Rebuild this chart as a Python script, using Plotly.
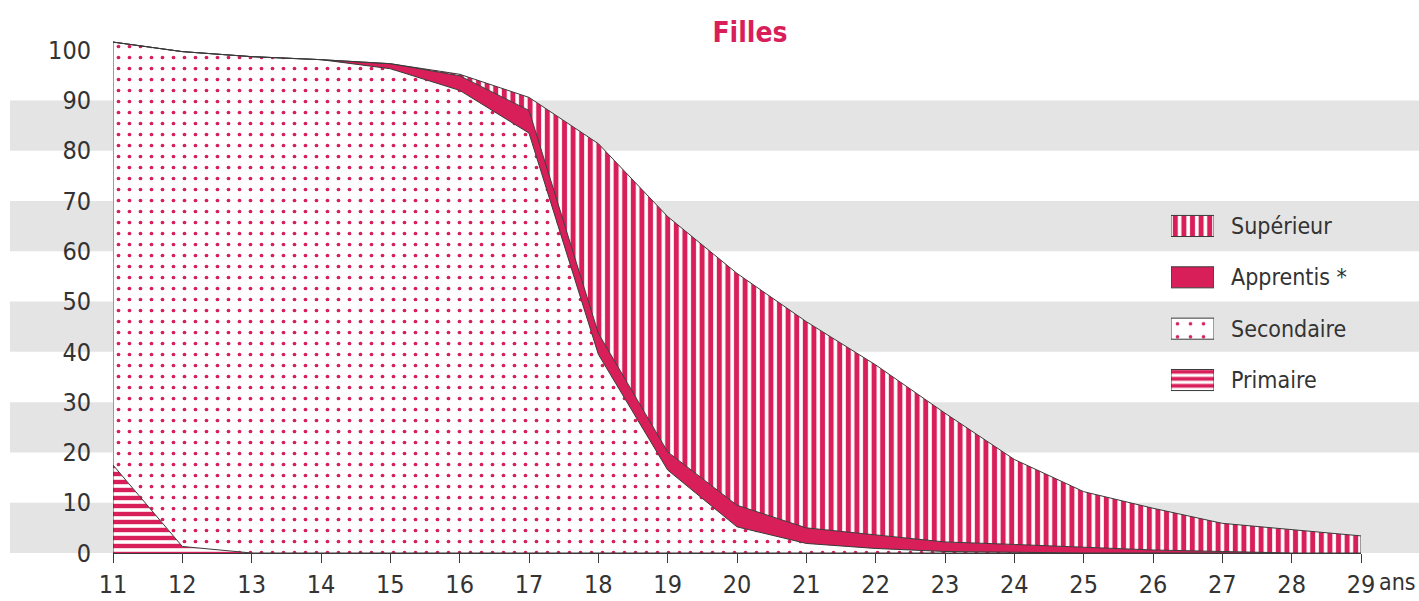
import plotly.graph_objects as go

# ---- data ----
ages = [11, 12, 13, 14, 15, 16, 17, 18, 19, 20, 21, 22, 23, 24, 25, 26, 27, 28, 29]
primaire = [17.5, 1.3, 0, 0, 0, 0, 0, 0, 0, 0, 0, 0, 0, 0, 0, 0, 0, 0, 0]
secondaire = [84.1, 98.4, 98.7, 98.1, 96.3, 92.0, 83.5, 39.5, 16.5, 5.2, 1.9, 0.9, 0.3, 0.1, 0, 0, 0, 0, 0]
apprentis = [0, 0, 0, 0, 1.0, 2.9, 4.5, 4.2, 3.6, 4.3, 3.1, 2.7, 1.9, 1.6, 1.1, 0.6, 0.3, 0, 0]
superieur = [0, 0, 0, 0, 0, 0.3, 2.6, 37.7, 46.8, 46.1, 41.0, 33.8, 25.6, 16.9, 11.1, 8.3, 5.6, 4.6, 3.4]
series_names = ["Primaire", "Secondaire", "Apprentis *", "Supérieur"]
legend_order = ["Supérieur", "Apprentis *", "Secondaire", "Primaire"]
y_ticks = [0, 10, 20, 30, 40, 50, 60, 70, 80, 90, 100]
band_ranges = [(0, 10), (20, 30), (40, 50), (60, 70), (80, 90)]
title_text = "Filles"
unit_text = "ans"

# ---- style ----
RED = "#d81f5a"
EDGE = "#3a3a3a"
TEXT = "#333333"
BAND = "#e4e4e4"
FONT = "Liberation Sans Narrow, DejaVu Sans Condensed, Arial Narrow, sans-serif"
W, H = 1419, 601
ML, MR, MT, MB = 113, 58, 30, 48
Y_MAX = 104

patterns = {
    "Primaire": dict(shape="-", fgcolor=RED, bgcolor="white", size=8, solidity=0.55, fgopacity=1),
    "Secondaire": dict(shape=".", fgcolor=RED, bgcolor="white", size=11, solidity=0.09, fgopacity=1),
    "Apprentis *": None,
    "Supérieur": dict(shape="|", fgcolor=RED, bgcolor="white", size=8.6, solidity=0.58, fgopacity=1),
}
legend_patterns = {
    "Primaire": dict(shape="-", size=7, solidity=0.55),
    "Secondaire": dict(shape=".", size=13, solidity=0.06),
    "Apprentis *": None,
    "Supérieur": dict(shape="|", size=8.6, solidity=0.58),
}
values = {"Primaire": primaire, "Secondaire": secondaire,
          "Apprentis *": apprentis, "Supérieur": superieur}

fig = go.Figure()
for name in series_names:
    kw = dict(x=ages, y=values[name], name=name, mode="lines", stackgroup="one",
              line=dict(color=EDGE, width=1), showlegend=False, hoverinfo="skip")
    if patterns[name] is None:
        kw["fillcolor"] = RED
    else:
        kw["fillpattern"] = patterns[name]
        kw["fillcolor"] = "white"
    fig.add_trace(go.Scatter(**kw))

# legend keys: one small horizontal bar per series on a separate axis pair
legend_key_length = 1
for name in legend_order:
    marker = dict(color=RED, line=dict(color=EDGE, width=1))
    lp = legend_patterns[name]
    if lp is not None:
        marker["pattern"] = dict(shape=lp["shape"], size=lp["size"], solidity=lp["solidity"],
                                 fillmode="replace", fgcolor=RED, bgcolor="white", fgopacity=1)
    fig.add_trace(go.Bar(x=[legend_key_length], y=[name], orientation="h",
                         xaxis="x2", yaxis="y2", marker=marker,
                         showlegend=False, hoverinfo="skip"))

totals = [p + s + a + u for p, s, a, u in zip(primaire, secondaire, apprentis, superieur)]

shapes = []
plot_h = H - MT - MB
for lo, hi in band_ranges:
    shapes.append(dict(type="rect", layer="below", xref="paper", yref="paper",
                       x0=(10 - ML) / (W - ML - MR), x1=(W - ML) / (W - ML - MR),
                       y0=lo / Y_MAX, y1=hi / Y_MAX, fillcolor=BAND, line=dict(width=0)))
# closing vertical edges of the stacked area
for i in (0, -1):
    shapes.append(dict(type="line", xref="x", yref="y", x0=ages[i], x1=ages[i],
                       y0=0, y1=totals[i], line=dict(color=EDGE, width=1)))

fig.update_layout(
    width=W, height=H, autosize=False,
    margin=dict(l=ML, r=MR, t=MT, b=MB, pad=0, autoexpand=False),
    paper_bgcolor="white", plot_bgcolor="rgba(0,0,0,0)",
    font=dict(family=FONT, size=25, color=TEXT),
    shapes=shapes,
    barmode="overlay", bargap=0.59,
    title=dict(text="<b>" + title_text + "</b>", x=750 / W, y=1 - 32 / H,
               xref="container", yref="container", xanchor="center", yanchor="middle",
               font=dict(family=FONT, size=28, color=RED)),
    xaxis=dict(range=[ages[0], ages[-1]], tickvals=ages, ticks="outside", ticklen=9,
               tickcolor=EDGE, showline=True, linecolor=EDGE, linewidth=1,
               showgrid=False, zeroline=False, automargin=False,
               tickfont=dict(size=25, color=TEXT)),
    yaxis=dict(range=[0, Y_MAX], tickvals=y_ticks, showline=False, ticks="",
               showgrid=False, zeroline=False, ticklabelstandoff=21, automargin=False,
               tickfont=dict(size=25, color=TEXT)),
    xaxis2=dict(domain=[(1171 - ML) / (W - ML - MR), (1214 - ML) / (W - ML - MR)],
                range=[0, 1], visible=False, anchor="y2", automargin=False),
    yaxis2=dict(domain=[(H - MB - 405.7) / plot_h, (H - MB - 200.3) / plot_h],
                type="category", categoryarray=legend_order, categoryorder="array",
                autorange="reversed", side="right", anchor="x2", showline=False,
                ticks="", showgrid=False, zeroline=False, ticklabelstandoff=16,
                automargin=False, tickfont=dict(size=23, color=TEXT)),
    annotations=[dict(text=unit_text, xref="paper", yref="paper", x=1, y=-29 / plot_h,
                      xanchor="left", yanchor="middle", xshift=16, showarrow=False,
                      font=dict(size=23, color=TEXT))],
)

fig.write_html("out.html", config={"displayModeBar": False},
               post_script="document.body.style.margin='0';document.body.style.overflow='hidden';")
